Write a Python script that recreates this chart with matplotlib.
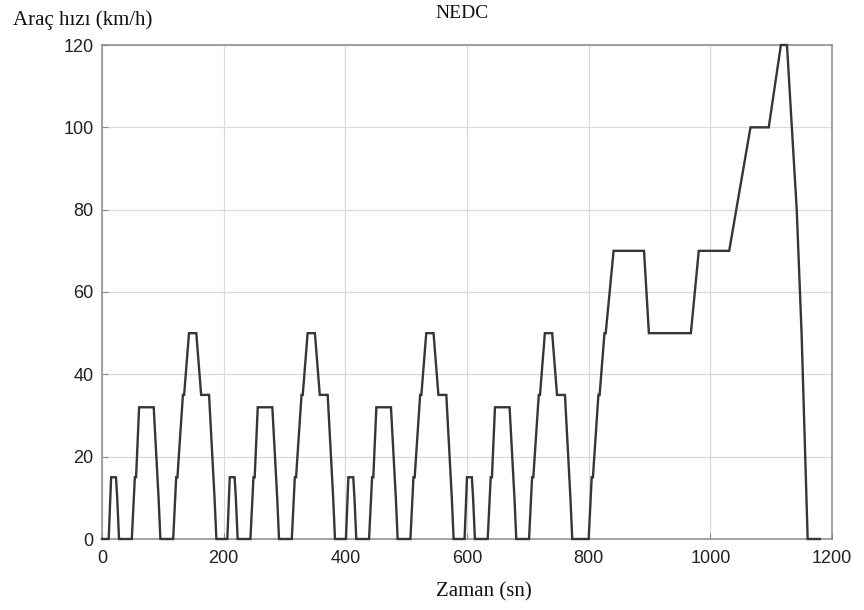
import numpy as np
import matplotlib
matplotlib.use("Agg")
import matplotlib.pyplot as plt

# Urban (ECE-15) elementary cycle breakpoints: time [s], speed [km/h]
ece_time = [0, 11, 15, 23, 25, 28, 49, 54, 56, 61, 85, 93, 96, 117, 122, 124,
            133, 135, 143, 155, 163, 176, 185, 188, 195]
ece_speed = [0, 0, 15, 15, 10, 0, 0, 15, 15, 32, 32, 10, 0, 0, 15, 15,
             35, 35, 50, 50, 35, 35, 10, 0, 0]
ece_repeats = 4

# Extra-urban (EUDC) cycle breakpoints: time [s], speed [km/h]
eudc_time = [0, 20, 25, 27, 36, 38, 46, 48, 61, 111, 119, 188, 201, 251, 286,
             316, 336, 346, 362, 370, 380, 400]
eudc_speed = [0, 0, 15, 15, 35, 35, 50, 50, 70, 70, 50, 50, 70, 70, 100,
              100, 120, 120, 80, 50, 0, 0]

x_ticks = [0, 200, 400, 600, 800, 1000, 1200]
y_ticks = [0, 20, 40, 60, 80, 100, 120]

# Assemble the full NEDC trace
t_all, v_all = [], []
offset = 0
for _ in range(ece_repeats):
    t_all += [offset + t for t in ece_time]
    v_all += list(ece_speed)
    offset += ece_time[-1]
t_all += [offset + t for t in eudc_time]
v_all += list(eudc_speed)

W, H = 864, 610
fig = plt.figure(figsize=(W / 100, H / 100), dpi=100)
left, right, top, bottom = 102, 832, 45, 539
ax = fig.add_axes([left / W, 1 - bottom / H, (right - left) / W, (bottom - top) / H])

ax.plot(t_all, v_all, color="#363636", lw=1.7, solid_joinstyle="miter",
        clip_on=False, zorder=3)

ax.set_xlim(0, 1200)
ax.set_ylim(0, 120)
ax.set_xticks(x_ticks)
ax.set_yticks(y_ticks)
ax.grid(True, color="#dadada", lw=0.9)
ax.set_axisbelow(True)
for s in ax.spines.values():
    s.set_color("#8a8a8a")
    s.set_linewidth(1.1)
ax.tick_params(direction="in", length=4, color="#8a8a8a", labelcolor="#222222",
               labelsize=13)
ax.tick_params(axis="y", pad=6)
ax.tick_params(axis="x", pad=8)
for lbl in ax.get_xticklabels() + ax.get_yticklabels():
    lbl.set_family("Liberation Sans")

serif = "Liberation Serif"
fig.text(462 / W, 1 - 13 / H, "NEDC", ha="center", va="center",
         family=serif, fontsize=14, color="#111111")
fig.text(13 / W, 1 - 20 / H, "Araç hızı (km/h)", ha="left", va="center",
         family=serif, fontsize=15, color="#111111")
fig.text(484 / W, 1 - 592 / H, "Zaman (sn)", ha="center", va="center",
         family=serif, fontsize=15, color="#111111")

fig.savefig("out.png", dpi=100, facecolor="white")
